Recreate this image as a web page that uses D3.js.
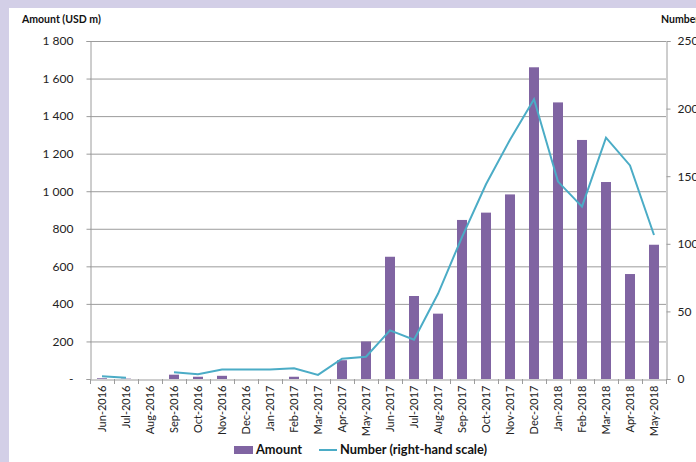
<!DOCTYPE html>
<html><head><meta charset="utf-8">
<script src="https://cdn.jsdelivr.net/npm/d3@7"></script>
<style>
html,body{margin:0;padding:0;background:#d3cfe7;}
svg{display:block;}
text{font-family:Lato,"Open Sans",sans-serif;}
</style></head><body>
<svg id="c" width="696" height="462"></svg>
<script>
const categories = ["Jun-2016","Jul-2016","Aug-2016","Sep-2016","Oct-2016","Nov-2016","Dec-2016","Jan-2017","Feb-2017","Mar-2017","Apr-2017","May-2017","Jun-2017","Jul-2017","Aug-2017","Sep-2017","Oct-2017","Nov-2017","Dec-2017","Jan-2018","Feb-2018","Mar-2018","Apr-2018","May-2018"];
const amount = [4, 2, 0, 23, 12, 17, 0, 0, 12, 0, 100, 200, 651, 442, 348, 847, 886, 983, 1660, 1473, 1273, 1049, 559, 715];
const number = [2, 1, null, 5, 3.5, 7, 7, 7, 8, 3, 15, 16.5, 36, 29, 63, 105, 144, 177, 207, 146, 127.5, 178.5, 158, 106.5];
const leftTicks = [0, 200, 400, 600, 800, 1000, 1200, 1400, 1600, 1800];
const rightTicks = [0, 50, 100, 150, 200, 250];

const svg = d3.select("#c");
svg.append("rect").attr("x",9).attr("y",8).attr("width",700).attr("height",470).attr("fill","#ffffff");

const m = {l:90, r:666, t:41, b:379};
const x = d3.scaleBand().domain(categories).range([m.l, m.r]);
const yL = d3.scaleLinear().domain([0,1800]).range([m.b, m.t]);
const yR = d3.scaleLinear().domain([0,250]).range([m.b, m.t]);

// gridlines
svg.append("g").selectAll("line").data(leftTicks.filter(d=>d>0)).join("line")
  .attr("x1",m.l).attr("x2",m.r).attr("y1",d=>yL(d)+0.5).attr("y2",d=>yL(d)+0.5)
  .attr("stroke","#9c9c9c").attr("stroke-width",1);

const fmt = d => d===0 ? "-" : d3.format(",")(d).replace(/,/g," ");
// left axis
const gl = svg.append("g").attr("transform",`translate(${m.l+0.5},0)`)
  .call(d3.axisLeft(yL).tickValues(leftTicks).tickFormat(fmt).tickSize(4).tickPadding(13));
gl.select(".domain").attr("stroke","#9c9c9c");
gl.selectAll(".tick line").attr("stroke","#9c9c9c");
gl.selectAll("text").attr("font-size",12).attr("fill","#222");

// right axis
const gr = svg.append("g").attr("transform",`translate(${m.r+0.5},0)`)
  .call(d3.axisRight(yR).tickValues(rightTicks).tickSize(4).tickPadding(7));
gr.select(".domain").attr("stroke","#9c9c9c");
gr.selectAll(".tick line").attr("stroke","#9c9c9c");
gr.selectAll("text").attr("font-size",12).attr("fill","#222");

// bottom axis
const gb = svg.append("g").attr("transform",`translate(0,${m.b+0.5})`)
  .call(d3.axisBottom(x).tickSize(0).tickPadding(0));
gb.select(".domain").attr("stroke","#9c9c9c");
gb.selectAll(".tick text").attr("font-size",11).attr("fill","#222")
  .attr("transform","rotate(-90)").attr("text-anchor","end")
  .attr("x",-6).attr("y",0).attr("dy","0.35em");
// category separator ticks
svg.append("g").selectAll("line").data(d3.range(categories.length+1)).join("line")
  .attr("x1",i=>m.l+i*x.step()+0.5).attr("x2",i=>m.l+i*x.step()+0.5)
  .attr("y1",m.b).attr("y2",m.b+5).attr("stroke","#9c9c9c");

// bars
const bw = 10;
svg.append("g").selectAll("rect").data(categories).join("rect")
  .attr("x",(d)=>x(d)+x.bandwidth()/2-bw/2)
  .attr("width",bw)
  .attr("y",(d,i)=>yL(amount[i]))
  .attr("height",(d,i)=>yL(0)-yL(amount[i]))
  .attr("fill","#8064a2");

// line
const line = d3.line()
  .defined(d=>d.v!==null)
  .x(d=>x(d.c)+x.bandwidth()/2)
  .y(d=>yR(d.v));
svg.append("path").datum(categories.map((c,i)=>({c,v:number[i]})))
  .attr("d",line).attr("fill","none").attr("stroke","#4bacc6").attr("stroke-width",2);

// axis titles
svg.append("text").attr("x",22).attr("y",23).attr("font-size",10.5).attr("font-weight","bold").attr("fill","#111").text("Amount (USD m)");
svg.append("text").attr("x",661).attr("y",23).attr("font-size",10.5).attr("font-weight","bold").attr("fill","#111").text("Number");

// legend
const lg = svg.append("g");
lg.append("rect").attr("x",234).attr("y",446).attr("width",19).attr("height",8).attr("fill","#8064a2");
lg.append("text").attr("x",256).attr("y",450).attr("dy","0.35em").attr("font-size",12.8).attr("font-weight","bold").attr("fill","#111").text("Amount");
lg.append("line").attr("x1",319).attr("x2",337).attr("y1",450).attr("y2",450).attr("stroke","#4bacc6").attr("stroke-width",2);
lg.append("text").attr("x",340).attr("y",450).attr("dy","0.35em").attr("font-size",12.8).attr("font-weight","bold").attr("fill","#111").text("Number (right-hand scale)");
</script>
</body></html>
